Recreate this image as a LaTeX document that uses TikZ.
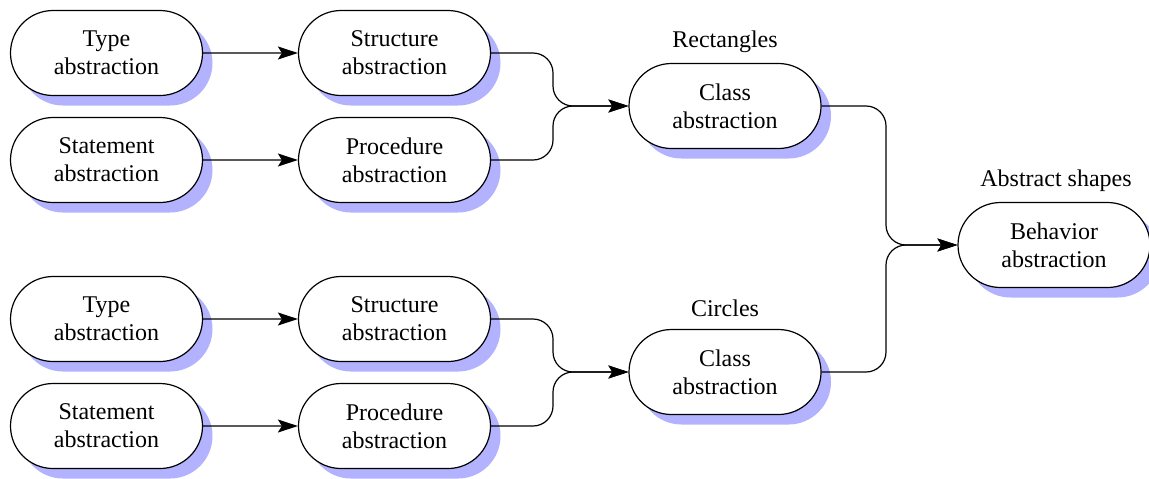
\documentclass[tikz,border=0pt]{standalone}
\usepackage{fontspec}
\setmainfont{Liberation Serif}
\usetikzlibrary{shapes.misc,shadows,arrows.meta}
\begin{document}
\begin{tikzpicture}[x=0.5pt,y=-0.5pt,
  block/.style={rounded rectangle, draw, fill=white, line width=0.6pt,
    minimum width=100pt, minimum height=42.5pt, inner sep=2pt, align=center,
    font=\fontsize{12}{14}\selectfont,
    drop shadow={shadow xshift=5pt, shadow yshift=-5pt, fill=blue!30, opacity=1}},
  caption/.style={font=\fontsize{12}{14}\selectfont, inner sep=0pt},
  link/.style={draw, line width=0.6pt, rounded corners=10pt,
    -{Stealth[length=10pt,width=6.5pt,inset=2pt]}}]

% upper group
\node[block] (t1) at (106.5,53)  {Type\\abstraction};
\node[block] (st1) at (106.5,160) {Statement\\abstraction};
\node[block] (s1) at (394.5,53)  {Structure\\abstraction};
\node[block] (p1) at (394.5,160) {Procedure\\abstraction};
\node[block] (c1) at (725,106)   {Class\\abstraction};
\node[caption] (l1) at (725,42)  {Rectangles};

% lower group
\node[block] (t2) at (106.5,319) {Type\\abstraction};
\node[block] (st2) at (106.5,426) {Statement\\abstraction};
\node[block] (s2) at (394.5,319) {Structure\\abstraction};
\node[block] (p2) at (394.5,426) {Procedure\\abstraction};
\node[block] (c2) at (725,372)   {Class\\abstraction};
\node[caption] (l2) at (725,308) {Circles};

% final node
\node[block] (b) at (1054,245)   {Behavior\\abstraction};
\node[caption] (l3) at (1056,181) {Abstract shapes};

% junction points
\coordinate (j1) at (553,106);
\coordinate (j2) at (553,372);
\coordinate (j3) at (886,245);

\draw[link] (t1) -- (s1);
\draw[link] (st1) -- (p1);
\draw[link] (t2) -- (s2);
\draw[link] (st2) -- (p2);

\draw[link] (s1.east) -| (j1) -- (c1.west);
\draw[link] (p1.east) -| (j1) -- (c1.west);
\draw[link] (s2.east) -| (j2) -- (c2.west);
\draw[link] (p2.east) -| (j2) -- (c2.west);

\draw[link] (c1.east) -| (j3) -- (b.west);
\draw[link] (c2.east) -| (j3) -- (b.west);

% fixed page frame; shadows may run past its edge
\pgfresetboundingbox
\useasboundingbox (0,0) rectangle (1149,478);
\end{tikzpicture}
\end{document}
